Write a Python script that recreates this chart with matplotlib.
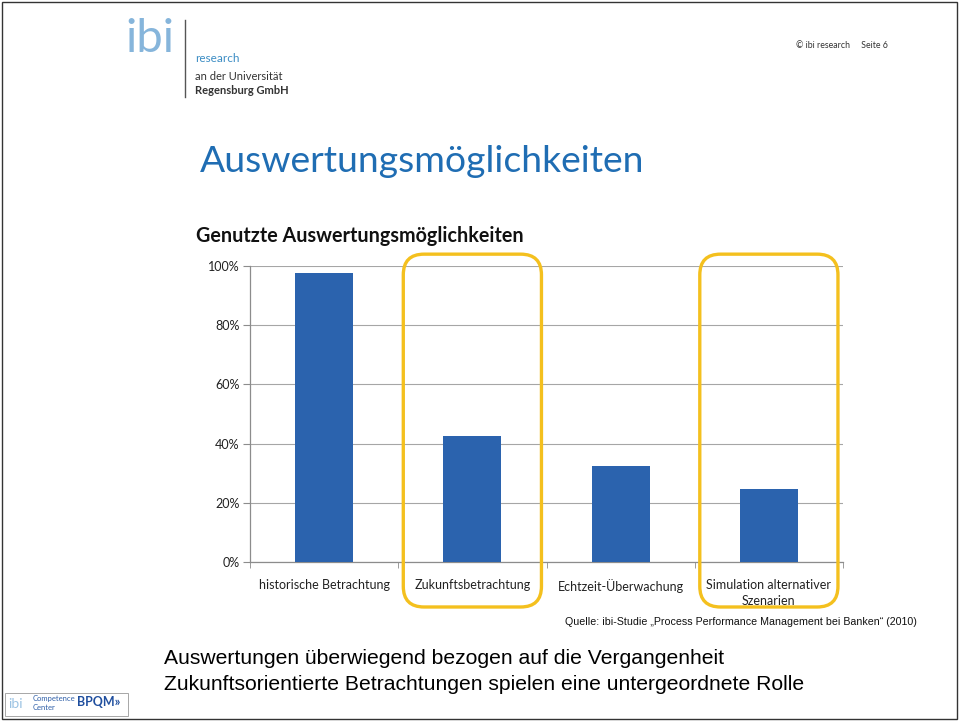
import matplotlib.pyplot as plt
import numpy as np
from matplotlib.patches import FancyBboxPatch, Rectangle
from matplotlib.ticker import FuncFormatter, FixedLocator
from matplotlib.transforms import blended_transform_factory

plt.rcParams['font.family'] = ['Lato', 'DejaVu Sans']

# Data
categories = ['historische Betrachtung', 'Zukunftsbetrachtung',
              'Echtzeit-Überwachung', 'Simulation alternativer\nSzenarien']
shares = [97.5, 42.5, 32.5, 24.7]
highlighted = [1, 3]
yticks = [0, 20, 40, 60, 80, 100]

blue = '#2B63AE'
gold = '#F4C01E'

fig = plt.figure(figsize=(9.6, 7.22), dpi=100)
W, H = 960., 722.


def fx(px):
    return px / W


def fy(py):
    return 1 - py / H


# slide frame
fig.patches.append(Rectangle((fx(2), fy(719)), fx(955), 717 / H, fill=False,
                             edgecolor='#333333', lw=1.0,
                             transform=fig.transFigure))

# header logo
fig.text(fx(125), fy(39), 'ibi', fontsize=34, color='#86B5DB',
         va='center', ha='left')
fig.add_artist(plt.Line2D([fx(185), fx(185)], [fy(20), fy(97)],
                          color='#555555', lw=1.0))
fig.text(fx(195), fy(58), 'research', fontsize=8.5, color='#3C8DC4',
         va='center', ha='left')
fig.text(fx(195), fy(77), 'an der Universität', fontsize=8, color='#333333',
         va='center', ha='left')
fig.text(fx(195), fy(91), 'Regensburg GmbH', fontsize=8, color='#333333',
         fontweight='bold', va='center', ha='left')
fig.text(fx(796), fy(46), '© ibi research     Seite 6', fontsize=6.3,
         color='#333333', va='center', ha='left')

# titles
fig.text(fx(200), fy(161), 'Auswertungsmöglichkeiten', fontsize=26.8,
         color='#1F6DB3', va='center', ha='left')
fig.text(fx(196), fy(236), 'Genutzte Auswertungsmöglichkeiten', fontsize=14.2,
         fontweight='bold', color='#111111', va='center', ha='left')

# chart
ax = fig.add_axes([fx(250), fy(562), fx(843 - 250), (562 - 266) / H])
x = np.arange(len(categories))
ax.bar(x, shares, width=0.39, color=blue, zorder=3)
ax.set_xlim(-0.5, len(categories) - 0.5)
ax.set_ylim(0, 100)
ax.yaxis.set_major_locator(FixedLocator(yticks))
ax.yaxis.set_major_formatter(FuncFormatter(lambda v, pos: '{:.0f}%'.format(v)))
ax.grid(axis='y', color='#A6A6A6', lw=0.8, zorder=0)
ax.set_xticks(x)
ax.set_xticklabels(categories, fontsize=9, color='#222222', linespacing=1.45)
ax.set_xticks(np.arange(len(categories) + 1) - 0.5, minor=True)
ax.tick_params(axis='x', which='major', length=0, pad=12)
ax.tick_params(axis='x', which='minor', length=4, color='#8C8C8C')
ax.tick_params(axis='y', length=5, color='#8C8C8C', labelsize=9,
               labelcolor='#222222', pad=2.4)
for s in ['top', 'right']:
    ax.spines[s].set_visible(False)
for s in ['left', 'bottom']:
    ax.spines[s].set_color('#8C8C8C')
    ax.spines[s].set_linewidth(0.9)

# highlight boxes around future-oriented categories
trans = blended_transform_factory(ax.transData, ax.transAxes)
for i in highlighted:
    box = FancyBboxPatch((i - 0.466, -0.152), 0.932, 1.192,
                         boxstyle='round,pad=0,rounding_size=0.14',
                         mutation_aspect=0.5, transform=trans, clip_on=False,
                         fill=False, edgecolor=gold, lw=2.4, zorder=5)
    ax.add_patch(box)

# source
fig.text(fx(565), fy(622),
         'Quelle: ibi-Studie \u201eProcess Performance Management bei Banken\u201c (2010)',
         fontsize=7.65, family='Liberation Sans', color='#111111',
         va='center', ha='left')

# conclusions
fig.text(fx(164), fy(658), 'Auswertungen überwiegend bezogen auf die Vergangenheit',
         fontsize=15.2, family='Liberation Sans', color='#000000',
         va='center', ha='left')
fig.text(fx(164), fy(685),
         'Zukunftsorientierte Betrachtungen spielen eine untergeordnete Rolle',
         fontsize=15.2, family='Liberation Sans', color='#000000',
         va='center', ha='left')

# footer logos
fig.patches.append(Rectangle((fx(5), fy(716)), fx(123), 23 / H, fill=False,
                             edgecolor='#999999', lw=0.6,
                             transform=fig.transFigure))
fig.text(fx(8), fy(704), 'ibi', fontsize=10, color='#9CC3E3',
         va='center', ha='left')
fig.text(fx(33), fy(699), 'Competence', fontsize=5.5, color='#2F5FA8',
         va='center', ha='left')
fig.text(fx(33), fy(708), 'Center', fontsize=5.5, color='#2F5FA8',
         va='center', ha='left')
fig.text(fx(77), fy(702), 'BPQM\u00bb', fontsize=9, fontweight='bold',
         color='#1F4E9E', va='center', ha='left')

fig.savefig('out.png', dpi=100)
